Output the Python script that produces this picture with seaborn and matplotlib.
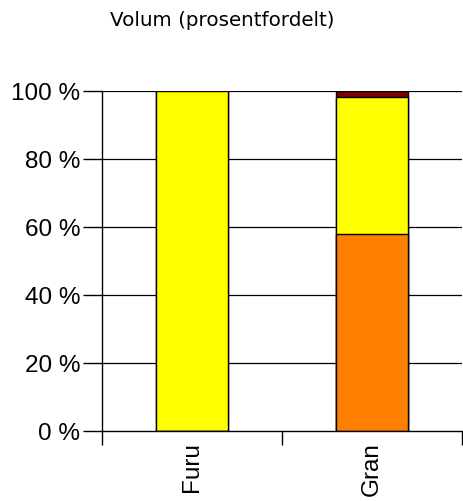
import numpy as np
import pandas as pd
import matplotlib
matplotlib.use("Agg")
import matplotlib.pyplot as plt
import seaborn as sns

# Data (percent of volume)
species = ["Furu", "Gran"]
orange_vals = [0.0, 58.0]
yellow_vals = [100.0, 40.3]
red_vals = [0.0, 1.7]
yticks = [0, 20, 40, 60, 80, 100]

sns.set_style("white", {"text.color": "black", "xtick.color": "black",
                        "ytick.color": "black", "axes.labelcolor": "black"})
plt.rcParams['font.family'] = ['Liberation Sans', 'DejaVu Sans']

df = pd.DataFrame({"art": species, "orange": orange_vals,
                   "yellow": yellow_vals, "red": red_vals})
df["c1"] = df["orange"]
df["c2"] = df["c1"] + df["yellow"]
df["c3"] = df["c2"] + df["red"]

fig = plt.figure(figsize=(4.63, 5.01), dpi=100)
ax = fig.add_axes([102 / 463, 1 - 431 / 501, 360 / 463, 340 / 501])

# gridlines behind bars
for v in yticks[1:]:
    ax.axhline(v, color="black", lw=0.9, zorder=0)

# stacked bars: draw cumulative totals from the top down
for col, color in [("c3", "#800000"), ("c2", "#FFFF00"), ("c1", "#FF8000")]:
    sns.barplot(data=df, x="art", y=col, color=color, width=0.4,
                edgecolor="black", linewidth=1, saturation=1, ax=ax, zorder=2)

ax.set_ylim(0, 100)
ax.set_xlim(-0.5, 1.5)
ax.set_yticks(yticks)
ax.set_yticklabels([f"{v} %" for v in yticks], fontsize=17.5)
ax.set_xticks([0, 1])
ax.set_xticklabels(species, rotation=90, fontsize=17.5)
ax.set_xticks([-0.5, 0.5, 1.5], minor=True)
ax.tick_params(axis="x", which="major", bottom=False, length=0, pad=8)
ax.tick_params(axis="x", which="minor", bottom=True, length=10, width=1,
               color="black", direction="out")
ax.tick_params(axis="y", which="major", left=True, length=14, width=1,
               color="black", direction="out", pad=1.5)
ax.set_xlabel("")
ax.set_ylabel("")

for s in ["top", "right"]:
    ax.spines[s].set_visible(False)
for s in ["left", "bottom"]:
    ax.spines[s].set_color("black")
    ax.spines[s].set_linewidth(1)

fig.text(222 / 463, 1 - 20 / 501, "Volum (prosentfordelt)", ha="center", va="center",
         fontsize=14.3, family="DejaVu Sans", color="black")

fig.savefig("out.png", dpi=100)
